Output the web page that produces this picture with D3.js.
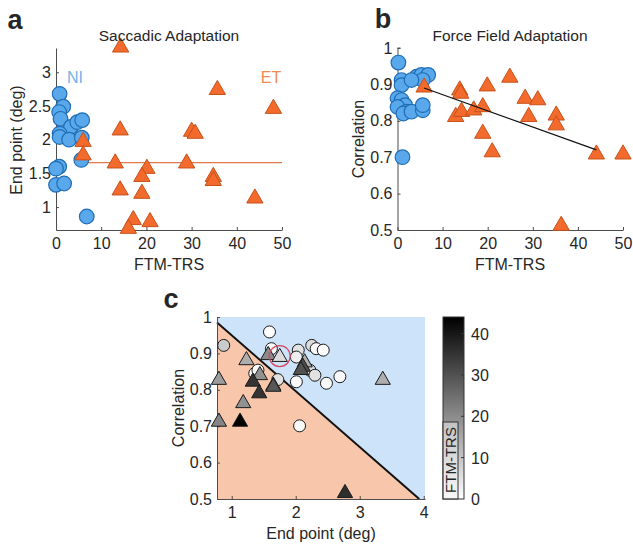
<!DOCTYPE html>
<html>
<head>
<meta charset="utf-8">
<script src="https://cdn.jsdelivr.net/npm/d3@7"></script>
<style>
  body { margin: 0; background: #fff; }
  text { font-family: "Liberation Sans", Arial, sans-serif; fill: #262626; }
</style>
</head>
<body>
<div id="fig"></div>
<script>
// panel a: FTM-TRS vs saccadic end point
const aNiFtm = [0.8, 1.6, 0.7, 1.0, 3.3, 4.7, 5.8, 0.8, 0.8, 2.9, 5.7, 0.7, 0, 0, 1.8, 5.6, 6.8];
const aNiEnd = [2.68, 2.49, 2.41, 2.31, 2.19, 2.26, 2.29, 2.09, 2.04, 2.0, 2.03, 1.6, 1.57, 1.33, 1.35, 1.70, 0.86];
const aEtFtm = [14.3, 14.2, 6.0, 6.0, 13.1, 14.2, 20.1, 19.0, 19.0, 17.1, 16.0, 20.8, 28.9, 30.0, 30.8, 34.8, 34.8, 35.7, 44.0, 48.1];
const aEtEnd = [3.37, 2.14, 1.97, 1.77, 1.65, 1.25, 1.57, 1.45, 1.20, 0.81, 0.68, 0.78, 1.65, 2.12, 2.09, 1.45, 1.39, 2.74, 1.13, 2.46];
const aMeanLine = { from: 6, to: 50, value: 1.66 };

// panel b: FTM-TRS vs force field correlation
const bNiFtm = [0.2, 0.9, 0.9, 0, 0.9, 1.7, 0, 2.0, 1.3, 3.1, 5.6, 5.6, 4.2, 5.3, 6.8, 5.6, 3.1, 1.1];
const bNiCorr = [0.96, 0.912, 0.898, 0.862, 0.857, 0.843, 0.838, 0.825, 0.82, 0.825, 0.829, 0.843, 0.921, 0.926, 0.926, 0.912, 0.912, 0.70];
const bEtFtm = [5.9, 13.8, 14.0, 12.9, 14.2, 16.9, 18.9, 19.9, 18.9, 21.0, 24.9, 29.1, 28.3, 31.1, 35.2, 35.2, 44.1, 50.0, 36.3];
const bEtCorr = [0.892, 0.884, 0.875, 0.811, 0.825, 0.829, 0.838, 0.895, 0.765, 0.714, 0.919, 0.811, 0.861, 0.857, 0.815, 0.788, 0.708, 0.708, 0.512];
const bFit = { x: [5.9, 44.1], y: [0.89, 0.72] };

// panel c: end point vs correlation, shaded by FTM-TRS
const cNiEnd = [0.875, 1.59, 1.62, 1.36, 1.41, 1.72, 2.04, 2.01, 2.25, 2.32, 2.43, 2.01, 2.22, 2.30, 2.48, 2.69, 2.06];
const cNiCorr = [0.922, 0.959, 0.913, 0.845, 0.854, 0.828, 0.909, 0.89, 0.922, 0.913, 0.909, 0.822, 0.854, 0.840, 0.818, 0.836, 0.701];
const cNiFtm = [9, 0, 1, 0, 1, 5, 5, 3, 6, 1, 0, 1, 6, 5, 1, 1, 1];
const cEtEnd = [0.80, 0.80, 1.13, 1.23, 1.18, 1.44, 1.65, 1.65, 1.33, 1.43, 1.57, 1.75, 2.14, 2.11, 2.08, 3.36, 2.77];
const cEtCorr = [0.827, 0.712, 0.712, 0.881, 0.763, 0.840, 0.811, 0.808, 0.822, 0.790, 0.895, 0.890, 0.875, 0.863, 0.854, 0.827, 0.516];
const cEtFtm = [17, 21, 44, 14, 19, 19, 13, 29, 35, 35, 20, 6, 14, 31, 30, 14, 36];
const cBoundary = { x: [0.77, 3.93], y: [0.985, 0.5] };
const cHighlight = { end: 1.75, corr: 0.890 };
const cbarTicks = [0, 10, 20, 30, 40];

const ftmTicks = [0, 10, 20, 30, 40, 50];
const endTicksA = [1, 1.5, 2, 2.5, 3];
const corrTicks = [0.5, 0.6, 0.7, 0.8, 0.9, 1];
const endTicksC = [1, 2, 3, 4];

const W = 633, H = 544;
const axisCol = "#4d4d4d";
const blueFill = "#5aa8ec", blueStroke = "#1f6db5";
const orangeFill = "#f26b2c", orangeStroke = "#c8501a";

const svg = d3.select("#fig").append("svg").attr("width", W).attr("height", H);

const tri = (s) => d3.symbol().type(d3.symbolTriangle).size(s)();

function styleAxis(g) {
  g.select(".domain").attr("stroke", axisCol);
  g.selectAll(".tick line").attr("stroke", axisCol);
  g.selectAll(".tick text").style("font-size", "16px").attr("fill", "#262626");
}

function drawAxes(x, y, xt, yt) {
  const gx = svg.append("g").attr("transform", `translate(0,${y.range()[0]})`)
    .call(d3.axisBottom(x).tickValues(xt).tickSizeInner(-3).tickSizeOuter(0).tickPadding(8).tickFormat(d => d));
  styleAxis(gx);
  const gy = svg.append("g").attr("transform", `translate(${x.range()[0]},0)`)
    .call(d3.axisLeft(y).tickValues(yt).tickSizeInner(-3).tickSizeOuter(0).tickPadding(5).tickFormat(d => d));
  styleAxis(gy);
}

function label(txt, x, y, opts = {}) {
  const t = svg.append("text").attr("x", x).attr("y", y).text(txt)
    .attr("text-anchor", opts.anchor || "middle")
    .style("font-size", (opts.size || 16) + "px");
  if (opts.rotate) t.attr("transform", `rotate(-90,${x},${y})`);
  if (opts.bold) t.style("font-weight", "bold");
  if (opts.fill) t.style("fill", opts.fill);
  return t;
}

// ---------- panel a ----------
const xa = d3.scaleLinear().domain([0, 50]).range([56, 282]);
const ya = d3.scaleLinear().domain([0.66, 3.36]).range([230, 48]);
drawAxes(xa, ya, ftmTicks, endTicksA);

svg.append("line")
  .attr("x1", xa(aMeanLine.from)).attr("x2", xa(aMeanLine.to))
  .attr("y1", ya(aMeanLine.value)).attr("y2", ya(aMeanLine.value))
  .attr("stroke", "#e07a4a").attr("stroke-width", 1.2);

svg.append("g").selectAll("circle").data(d3.zip(aNiFtm, aNiEnd)).join("circle")
  .attr("cx", d => xa(d[0])).attr("cy", d => ya(d[1])).attr("r", 7.3)
  .attr("fill", blueFill).attr("stroke", blueStroke).attr("stroke-width", 1.2);
svg.append("g").selectAll("path").data(d3.zip(aEtFtm, aEtEnd)).join("path")
  .attr("d", tri(115))
  .attr("transform", d => `translate(${xa(d[0])},${ya(d[1])})`)
  .attr("fill", orangeFill).attr("stroke", orangeStroke).attr("stroke-width", 1);

label("a", 15, 29, { size: 27, bold: true });
label("Saccadic Adaptation", 169, 41, { size: 15.5 });
label("End point (deg)", 22, 140, { rotate: true });
label("FTM-TRS", 169, 270);
label("NI", 75, 83);
label("ET", 271, 83);
svg.selectAll("text").filter(function () { return this.textContent === "NI"; }).style("fill", "#74b2ea");
svg.selectAll("text").filter(function () { return this.textContent === "ET"; }).style("fill", "#ee8a50");

// ---------- panel b ----------
const xb = d3.scaleLinear().domain([0, 50]).range([397.5, 623]);
const yb = d3.scaleLinear().domain([0.5, 1]).range([230, 48]);
drawAxes(xb, yb, ftmTicks, corrTicks);
svg.append("line").attr("x1", xb(0)).attr("x2", xb(0) + 3)
  .attr("y1", yb(1)).attr("y2", yb(1)).attr("stroke", axisCol);

svg.append("g").selectAll("circle").data(d3.zip(bNiFtm, bNiCorr)).join("circle")
  .attr("cx", d => xb(d[0])).attr("cy", d => yb(d[1])).attr("r", 7.3)
  .attr("fill", blueFill).attr("stroke", blueStroke).attr("stroke-width", 1.2);
svg.append("g").selectAll("path").data(d3.zip(bEtFtm, bEtCorr)).join("path")
  .attr("d", tri(115))
  .attr("transform", d => `translate(${xb(d[0])},${yb(d[1])})`)
  .attr("fill", orangeFill).attr("stroke", orangeStroke).attr("stroke-width", 1);
svg.append("line")
  .attr("x1", xb(bFit.x[0])).attr("y1", yb(bFit.y[0]))
  .attr("x2", xb(bFit.x[1])).attr("y2", yb(bFit.y[1]))
  .attr("stroke", "#111").attr("stroke-width", 1.2);

label("b", 383, 28, { size: 27, bold: true });
label("Force Field Adaptation", 510, 41, { size: 15.5 });
label("Correlation", 364, 139, { rotate: true });
label("FTM-TRS", 510, 270);

// ---------- panel c ----------
const xc = d3.scaleLinear().domain([0.77, 4.02]).range([217, 425]);
const yc = d3.scaleLinear().domain([0.5, 1]).range([499, 317]);
const shade = d3.scaleLinear().domain([0, 44]).range(["#ffffff", "#000000"]);

svg.append("rect").attr("x", xc(0.77)).attr("y", yc(1))
  .attr("width", xc(4.02) - xc(0.77)).attr("height", yc(0.5) - yc(1))
  .attr("fill", "#cde3fa");
svg.append("path")
  .attr("d", d3.line()([[xc(cBoundary.x[0]), yc(cBoundary.y[0])], [xc(cBoundary.x[0]), yc(0.5)], [xc(cBoundary.x[1]), yc(cBoundary.y[1])]]))
  .attr("fill", "#f8c7ab");
svg.append("line")
  .attr("x1", xc(cBoundary.x[0])).attr("y1", yc(cBoundary.y[0]))
  .attr("x2", xc(cBoundary.x[1])).attr("y2", yc(cBoundary.y[1]))
  .attr("stroke", "#111").attr("stroke-width", 2);
drawAxes(xc, yc, endTicksC, corrTicks);

svg.append("g").selectAll("circle").data(d3.zip(cNiEnd, cNiCorr, cNiFtm)).join("circle")
  .attr("cx", d => xc(d[0])).attr("cy", d => yc(d[1])).attr("r", 6)
  .attr("fill", d => shade(d[2])).attr("stroke", "#1a1a1a").attr("stroke-width", 1);
svg.append("g").selectAll("path").data(d3.zip(cEtEnd, cEtCorr, cEtFtm)).join("path")
  .attr("d", tri(100))
  .attr("transform", d => `translate(${xc(d[0])},${yc(d[1])})`)
  .attr("fill", d => shade(d[2])).attr("stroke", "#1a1a1a").attr("stroke-width", 1);
svg.append("circle").attr("cx", xc(cHighlight.end)).attr("cy", yc(cHighlight.corr) - 1).attr("r", 10.5)
  .attr("fill", "none").attr("stroke", "#d24a64").attr("stroke-width", 1.3);

label("c", 171, 308, { size: 27, bold: true });
label("Correlation", 184, 408, { rotate: true });
label("End point (deg)", 321, 539);

// colorbar
const cb = d3.scaleLinear().domain([0, 44]).range([499, 317]);
const defs = svg.append("defs");
const grad = defs.append("linearGradient").attr("id", "cbg")
  .attr("x1", 0).attr("y1", 1).attr("x2", 0).attr("y2", 0);
grad.append("stop").attr("offset", "0%").attr("stop-color", "#ffffff");
grad.append("stop").attr("offset", "100%").attr("stop-color", "#000000");
svg.append("rect").attr("x", 443).attr("y", cb(44)).attr("width", 21).attr("height", cb(0) - cb(44))
  .attr("fill", "url(#cbg)").attr("stroke", "#333").attr("stroke-width", 1);
svg.append("g").selectAll("line").data(cbarTicks.slice(1)).join("line")
  .attr("x1", 461).attr("x2", 464).attr("y1", d => cb(d)).attr("y2", d => cb(d)).attr("stroke", "#333");
svg.append("g").selectAll("text").data(cbarTicks).join("text")
  .attr("x", 471).attr("y", d => cb(d) + 6).text(d => d).style("font-size", "16px");
svg.append("rect").attr("x", 443).attr("y", 422).attr("width", 15).attr("height", 77)
  .attr("fill", "#f2f2f2").attr("fill-opacity", 0.5).attr("stroke", "#333").attr("stroke-width", 1);
label("FTM-TRS", 456, 460, { rotate: true, size: 15 });
</script>
</body>
</html>
